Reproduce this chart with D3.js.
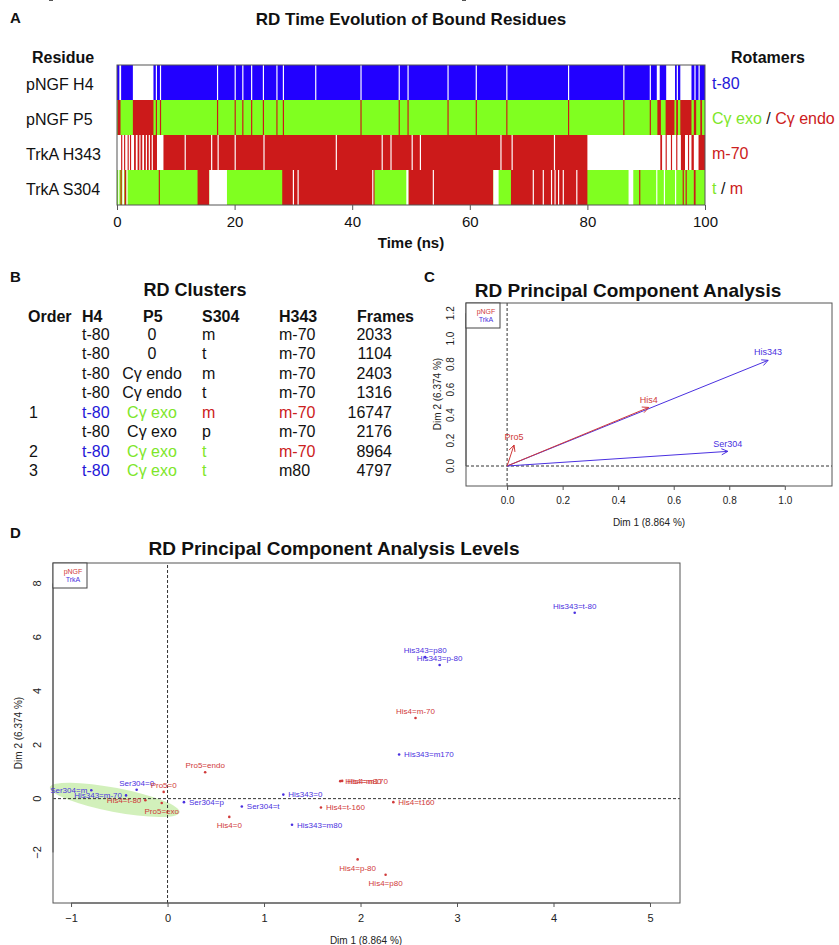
<!DOCTYPE html>
<html>
<head>
<meta charset="utf-8">
<script src="https://cdn.jsdelivr.net/npm/d3@7"></script>
<style>
  body { margin: 0; background: #fff; }
  svg { display: block; font-family: "Liberation Sans", Arial, sans-serif; }
</style>
</head>
<body>
<div id="fig"></div>
<script>
// ---------- A: time evolution (ns) ----------
var residues = ["pNGF H4", "pNGF P5", "TrkA H343", "TrkA S304"];
var timeTicks = [0, 20, 40, 60, 80, 100];
var rowBase = ["t-80", "exo", "m-70", "t"];
var rowChangeState = ["o", "endo", "o", null];   // null -> state given per interval

var h4Changes = [[0.4,0.7],[2.7,6.2],[6.6,6.8],[7.3,7.5],[17.0,17.2],[20.0,20.2],[21.3,21.5],[22.8,23.0],
  [24.8,25.0],[27.1,27.3],[28.2,28.4],[33.7,33.9],[41.4,41.6],[47.9,48.1],[49.4,49.6],[56.2,56.4],
  [61.0,61.2],[66.2,66.4],[76.7,76.9],[86.1,86.3],[90.6,90.8],[91.8,92.3],[93.4,94.9],[95.2,95.4],
  [95.8,97.7],[98.2,98.4],[98.9,99.1]];
var p5Changes = [[0.1,0.6],[2.7,6.2],[6.6,6.8],[7.3,7.5],[17.0,17.2],[20.0,20.2],[21.3,21.5],[22.8,23.0],
  [24.8,25.0],[27.1,27.3],[28.2,28.4],[41.4,41.6],[47.9,48.1],[49.4,49.6],[56.2,56.4],[61.0,61.2],
  [66.2,66.4],[76.7,76.9],[86.1,86.3],[90.6,90.8],[91.9,92.5],[93.3,94.8],[95.1,95.4],[95.8,97.7],
  [98.1,98.5],[99.2,99.5]];
var h343Changes = [[0.0,0.7],[0.9,1.2],[1.4,1.8],[2.0,2.2],[2.4,2.9],[3.2,3.5],[3.8,4.0],[4.3,4.6],
  [4.9,5.1],[5.4,5.6],[5.9,6.1],[6.8,7.9],[11.5,11.7],[16.0,16.2],[17.1,17.3],[20.0,20.2],[24.9,25.1],
  [37.2,37.4],[45.0,45.2],[46.5,46.7],[50.1,50.3],[51.5,51.7],[65.2,65.4],[67.1,67.3],[74.3,74.5],
  [80.0,92.4],[92.7,93.3],[93.5,94.2],[94.4,95.1],[95.3,95.9],[96.6,97.1],[97.3,97.7],[98.1,98.9]];
var s304Changes = [[0.2,0.4,"o"],[0.6,0.8,"m"],[0.9,1.2,"o"],[1.3,1.6,"m"],[1.6,1.8,"o"],[7.1,7.3,"m"],
  [13.7,15.7,"m"],[15.7,18.7,"o"],[28.1,43.8,"m"],[29.9,30.1,"o"],[30.7,30.9,"o"],[43.4,43.6,"o"],
  [49.2,49.6,"o"],[49.6,64.0,"m"],[53.7,53.9,"o"],[64.0,64.9,"o"],[67.0,80.0,"m"],[70.7,70.9,"o"],
  [72.4,72.6,"o"],[73.8,74.0,"o"],[74.4,74.6,"o"],[75.0,75.2,"o"],[75.8,76.0,"o"],[78.1,78.3,"o"],
  [87.0,87.8,"o"],[88.8,89.0,"m"],[91.7,91.9,"o"],[93.0,93.2,"o"],[94.9,95.1,"o"],[96.2,96.4,"m"],
  [96.7,96.9,"m"],[98.1,98.4,"m"]];

// ---------- B: clusters ----------
var clusterHeader = ["Order", "H4", "P5", "S304", "H343", "Frames"];
var clusterOrder = ["", "", "", "", "1", "", "2", "3"];
var clusterH4 = ["t-80", "t-80", "t-80", "t-80", "t-80", "t-80", "t-80", "t-80"];
var clusterP5 = ["0", "0", "Cγ endo", "Cγ endo", "Cγ exo", "Cγ exo", "Cγ exo", "Cγ exo"];
var clusterS304 = ["m", "t", "m", "t", "m", "p", "t", "t"];
var clusterH343 = ["m-70", "m-70", "m-70", "m-70", "m-70", "m-70", "m-70", "m80"];
var clusterFrames = [2033, 1104, 2403, 1316, 16747, 2176, 8964, 4797];

// ---------- C: PCA variables ----------
var pcaVars = ["His343", "His4", "Ser304", "Pro5"];
var pcaDim1 = [0.94, 0.51, 0.795, 0.025];
var pcaDim2 = [0.83, 0.46, 0.115, 0.165];
var pcaGroup = ["TrkA", "pNGF", "TrkA", "pNGF"];
var pcaTicksX = [0, 0.2, 0.4, 0.6, 0.8, 1.0];
var pcaTicksY = [0, 0.2, 0.4, 0.6, 0.8, 1.0, 1.2];

// ---------- D: PCA levels ----------
var levelNames = ["Ser304=m", "His343=m-70", "Ser304=0", "His4=t-80", "Pro5=0", "Pro5=exo", "Ser304=p",
  "Pro5=endo", "His4=0", "Ser304=t", "His343=0", "His343=m80", "His4=t-160", "His4=m80", "His4=m170",
  "His4=p-80", "His4=p80", "His4=t160", "His343=m170", "His4=m-70", "His343=p80", "His343=p-80", "His343=t-80"];
var levelDim1 = [-0.79, -0.43, -0.32, -0.23, -0.04, -0.06, 0.17, 0.39, 0.64, 0.77, 1.20, 1.29, 1.59, 1.79,
  1.81, 1.97, 2.26, 2.34, 2.40, 2.57, 2.67, 2.82, 4.22];
var levelDim2 = [0.31, 0.12, 0.33, -0.06, 0.25, -0.16, -0.13, 0.98, -0.68, -0.29, 0.15, -0.97, -0.33, 0.65,
  0.66, -2.26, -2.83, -0.13, 1.64, 3.0, 5.26, 4.97, 6.91];
var levelGroup = ["TrkA", "TrkA", "TrkA", "pNGF", "pNGF", "pNGF", "TrkA", "pNGF", "pNGF", "TrkA", "TrkA",
  "TrkA", "pNGF", "pNGF", "pNGF", "pNGF", "pNGF", "pNGF", "TrkA", "pNGF", "TrkA", "TrkA", "TrkA"];
var levelTicksX = [-1, 0, 1, 2, 3, 4, 5];
var levelTicksY = [-2, 0, 2, 4, 6, 8];
// cluster ellipse: centre (dim1, dim2), semi-axes (dim1 units, dim2 units)
var ellipseCentre = [-0.547, -0.045];
var ellipseAxes = [0.685, 0.67];

var BLUE = "#2200ff", GREEN = "#80ff20", RED = "#cc1a1a";
var TBLUE = "#2318d8", TGREEN = "#7ee62a", TRED = "#cc2020";
var GRP = {pNGF: "#d03a3a", TrkA: "#4a30e0"};
var AXC = "#555";

var svg = d3.select("#fig").append("svg").attr("width", 839).attr("height", 945);

function label(g, x, y, s, size, opts) {
  opts = opts || {};
  return g.append("text").attr("x", x).attr("y", y).attr("dy", "0.35em")
    .attr("font-size", size).attr("font-weight", opts.bold ? "bold" : null)
    .attr("text-anchor", opts.anchor || "start").attr("fill", opts.fill || "#111")
    .text(s);
}

// panel letters
label(svg, 10, 18, "A", 15, {bold: true});
label(svg, 10, 277, "B", 15, {bold: true});
label(svg, 424, 277, "C", 15, {bold: true});
label(svg, 10, 533, "D", 15, {bold: true});

// ================= A =================
var gA = svg.append("g");
var xA = d3.scaleLinear().domain([0, 100]).range([117, 705]);
var yA = d3.scaleBand().domain(residues).range([65, 205]);
var stateColor = {"t-80": BLUE, exo: GREEN, endo: RED, "m-70": RED, t: GREEN, m: RED, o: "#fff"};
var rowChanges = [h4Changes, p5Changes, h343Changes, s304Changes];

label(gA, 411, 19, "RD Time Evolution of Bound Residues", 17, {bold: true, anchor: "middle"});
label(gA, 32, 57, "Residue", 16, {bold: true});
label(gA, 731, 57, "Rotamers", 16, {bold: true});

residues.forEach(function(r, i) {
  var row = gA.append("g");
  row.append("rect").attr("x", xA(0)).attr("y", yA(r))
    .attr("width", xA(100) - xA(0)).attr("height", yA.bandwidth())
    .attr("fill", stateColor[rowBase[i]]);
  row.selectAll("rect.ch").data(rowChanges[i]).enter().append("rect")
    .attr("class", "ch")
    .attr("x", function(d) { return xA(d[0]); })
    .attr("y", yA(r))
    .attr("width", function(d) { return Math.max(1, xA(d[1]) - xA(d[0])); })
    .attr("height", yA.bandwidth())
    .attr("fill", function(d) { return stateColor[d[2] || rowChangeState[i]]; });
  label(gA, 26, yA(r) + yA.bandwidth() / 2 + 2, r, 16);
});

gA.append("rect").attr("x", xA(0)).attr("y", 65).attr("width", xA(100) - xA(0)).attr("height", 140)
  .attr("fill", "none").attr("stroke", AXC);

var axA = gA.append("g").attr("transform", "translate(0,205)")
  .call(d3.axisBottom(xA).tickValues(timeTicks).tickSize(5).tickSizeOuter(0));
axA.select(".domain").remove();
axA.selectAll("line").attr("stroke", AXC);
axA.selectAll("text").attr("font-size", 15).attr("font-family", null).attr("fill", "#111").attr("dy", "0.9em");
label(gA, 411, 243, "Time (ns)", 15, {bold: true, anchor: "middle"});

// rotamer legend
function rotLegend(y, parts) {
  var t = gA.append("text").attr("x", 712).attr("y", yA(residues[y]) + yA.bandwidth() / 2 + 1)
    .attr("dy", "0.35em").attr("font-size", 16);
  parts.forEach(function(p) { t.append("tspan").attr("fill", p[1]).text(p[0]); });
}
rotLegend(0, [["t-80", TBLUE]]);
rotLegend(1, [["Cγ exo", TGREEN], [" / ", "#111"], ["Cγ endo", TRED]]);
rotLegend(2, [["m-70", TRED]]);
rotLegend(3, [["t", TGREEN], [" / ", "#111"], ["m", TRED]]);

// ================= B =================
var gB = svg.append("g");
label(gB, 195, 290, "RD Clusters", 18, {bold: true, anchor: "middle"});
var colX = [28, 82, 152, 202, 279, 392];
var rowY = d3.scaleLinear().domain([0, 1]).range([334, 353.5]);
var hdr = gB.append("g");
clusterHeader.forEach(function(h, j) {
  var x = j === 2 ? 143 : (j === 5 ? 357 : colX[j]);
  label(hdr, x, 316, h, 16, {bold: true});
});
function cellColor(j, v, ordered) {
  if (!ordered) return "#111";
  if (j === 1) return TBLUE;
  if (j === 2) return v.indexOf("exo") >= 0 ? TGREEN : "#111";
  if (j === 3) return v === "t" ? TGREEN : (v === "m" ? TRED : "#111");
  if (j === 4) return v === "m-70" ? TRED : "#111";
  return "#111";
}
clusterFrames.forEach(function(f, i) {
  var y = rowY(i);
  var ordered = clusterOrder[i] !== "";
  var vals = [clusterOrder[i], clusterH4[i], clusterP5[i], clusterS304[i], clusterH343[i], String(f)];
  vals.forEach(function(v, j) {
    var anchor = j === 2 ? "middle" : (j === 5 ? "end" : "start");
    label(gB, j === 0 ? 29 : colX[j], y, v, 16, {anchor: anchor, fill: cellColor(j, v, ordered)});
  });
});

// ================= C =================
var gC = svg.append("g");
var xC = d3.scaleLinear().domain([-0.148, 1.17]).range([466, 832]);
var yC = d3.scaleLinear().domain([-0.157, 1.28]).range([486, 303]);
label(gC, 628, 290, "RD Principal Component Analysis", 19, {bold: true, anchor: "middle"});

function rBox(g, x, y) {
  g.append("rect").attr("x", x.range()[0]).attr("y", y.range()[1])
    .attr("width", x.range()[1] - x.range()[0]).attr("height", y.range()[0] - y.range()[1])
    .attr("fill", "none").attr("stroke", AXC);
}
function rAxes(g, x, y, tx, ty, fmt, size) {
  var ax = g.append("g").attr("transform", "translate(0," + y.range()[0] + ")")
    .call(d3.axisBottom(x).tickValues(tx).tickFormat(fmt).tickSize(4).tickSizeOuter(0));
  ax.select(".domain").attr("d", "M" + x(tx[0]) + ",0H" + x(tx[tx.length - 1])).attr("stroke", AXC);
  ax.selectAll("line").attr("stroke", AXC);
  ax.selectAll("text").attr("font-size", size).attr("font-family", null).attr("fill", "#222").attr("dy", "1.1em");
  var ay = g.append("g").attr("transform", "translate(" + x.range()[0] + ",0)")
    .call(d3.axisLeft(y).tickValues(ty).tickFormat(fmt).tickSize(4).tickSizeOuter(0));
  ay.select(".domain").attr("d", "M0," + y(ty[0]) + "V" + y(ty[ty.length - 1])).attr("stroke", AXC);
  ay.selectAll("line").attr("stroke", AXC);
  ay.selectAll("text").attr("font-size", size).attr("font-family", null).attr("fill", "#222")
    .attr("x", 0).attr("dy", 0).attr("text-anchor", "middle")
    .attr("transform", function(d) { return "translate(-12," + y(d) + ") rotate(-90)"; })
    .attr("y", 0);
  ay.selectAll(".tick").attr("transform", null);
}
function zeroLines(g, x, y) {
  g.append("line").attr("x1", x(0)).attr("x2", x(0)).attr("y1", y.range()[0]).attr("y2", y.range()[1])
    .attr("stroke", "#333").attr("stroke-dasharray", "3,2");
  g.append("line").attr("x1", x.range()[0]).attr("x2", x.range()[1]).attr("y1", y(0)).attr("y2", y(0))
    .attr("stroke", "#333").attr("stroke-dasharray", "3,2");
}
function groupLegend(g, x0, y0) {
  g.append("rect").attr("x", x0).attr("y", y0).attr("width", 34).attr("height", 25)
    .attr("fill", "#fff").attr("stroke", "#444");
  label(g, x0 + 20, y0 + 9, "pNGF", 7, {anchor: "middle", fill: GRP.pNGF});
  label(g, x0 + 20, y0 + 17, "TrkA", 7, {anchor: "middle", fill: GRP.TrkA});
}

zeroLines(gC, xC, yC);
rBox(gC, xC, yC);
rAxes(gC, xC, yC, pcaTicksX, pcaTicksY, d3.format(".1f"), 10);
groupLegend(gC, 466, 303);
label(gC, 649, 522, "Dim 1 (8.864 %)", 10, {anchor: "middle", fill: "#222"});
gC.append("text").attr("transform", "translate(437,394) rotate(-90)").attr("text-anchor", "middle")
  .attr("dy", "0.35em").attr("font-size", 10).attr("fill", "#222").text("Dim 2 (6.374 %)");

pcaVars.forEach(function(v, i) {
  var x1 = xC(pcaDim1[i]), y1 = yC(pcaDim2[i]), x0 = xC(0), y0 = yC(0);
  var col = GRP[pcaGroup[i]];
  var ang = Math.atan2(y1 - y0, x1 - x0), L = 7, a = Math.PI / 7;
  gC.append("line").attr("x1", x0).attr("y1", y0).attr("x2", x1).attr("y2", y1)
    .attr("stroke", col).attr("stroke-width", 1);
  gC.append("path").attr("fill", "none").attr("stroke", col)
    .attr("d", "M" + (x1 - L * Math.cos(ang - a)) + "," + (y1 - L * Math.sin(ang - a)) +
      "L" + x1 + "," + y1 + "L" + (x1 - L * Math.cos(ang + a)) + "," + (y1 - L * Math.sin(ang + a)));
  label(gC, x1, y1 - 8, v, 9, {anchor: "middle", fill: col});
});

// ================= D =================
var gD = svg.append("g");
var xD = d3.scaleLinear().domain([-1.187, 5.311]).range([53, 680]);
var yD = d3.scaleLinear().domain([-3.88, 8.76]).range([903, 563]);
label(gD, 334, 548, "RD Principal Component Analysis Levels", 19, {bold: true, anchor: "middle"});

var erx = xD(ellipseAxes[0]) - xD(0), ery = (yD(0) - yD(ellipseAxes[1])) / 1.5;
gD.append("ellipse").attr("cx", 0).attr("cy", 0).attr("rx", erx).attr("ry", ery)
  .attr("transform", "translate(" + xD(ellipseCentre[0]) + "," + yD(ellipseCentre[1]) + ") rotate(10.9)")
  .attr("fill", "#cdeeb4").attr("opacity", 0.9);

zeroLines(gD, xD, yD);
rBox(gD, xD, yD);
rAxes(gD, xD, yD, levelTicksX, levelTicksY, d3.format("d"), 11);
groupLegend(gD, 53, 563);
label(gD, 366, 940, "Dim 1 (8.864 %)", 10, {anchor: "middle", fill: "#222"});
gD.append("text").attr("transform", "translate(18,733) rotate(-90)").attr("text-anchor", "middle")
  .attr("dy", "0.35em").attr("font-size", 10).attr("fill", "#222").text("Dim 2 (6.374 %)");

// label side: t = above, b = below, l = left, r = right
var labelSide = {"Ser304=m": "l", "His343=m-70": "l", "His4=t-80": "l", "Pro5=exo": "b", "Ser304=p": "r",
  "His4=0": "b", "Ser304=t": "r", "His343=0": "r", "His343=m80": "r", "His4=t-160": "r", "His4=m80": "r",
  "His4=m170": "r", "His4=p-80": "b", "His4=p80": "b", "His4=t160": "r", "His343=m170": "r"};

levelNames.forEach(function(n, i) {
  var x = xD(levelDim1[i]), y = yD(levelDim2[i]), col = GRP[levelGroup[i]];
  gD.append("circle").attr("cx", x).attr("cy", y).attr("r", 1.3).attr("fill", col);
  var side = labelSide[n] || "t";
  var lx = x, ly = y, an = "middle";
  if (side === "t") ly = y - 7;
  if (side === "b") ly = y + 8.5;
  if (side === "l") { lx = x - 4; an = "end"; }
  if (side === "r") { lx = x + 5; an = "start"; }
  label(gD, lx, ly, n, 8, {anchor: an, fill: col});
});
</script>
</body>
</html>
